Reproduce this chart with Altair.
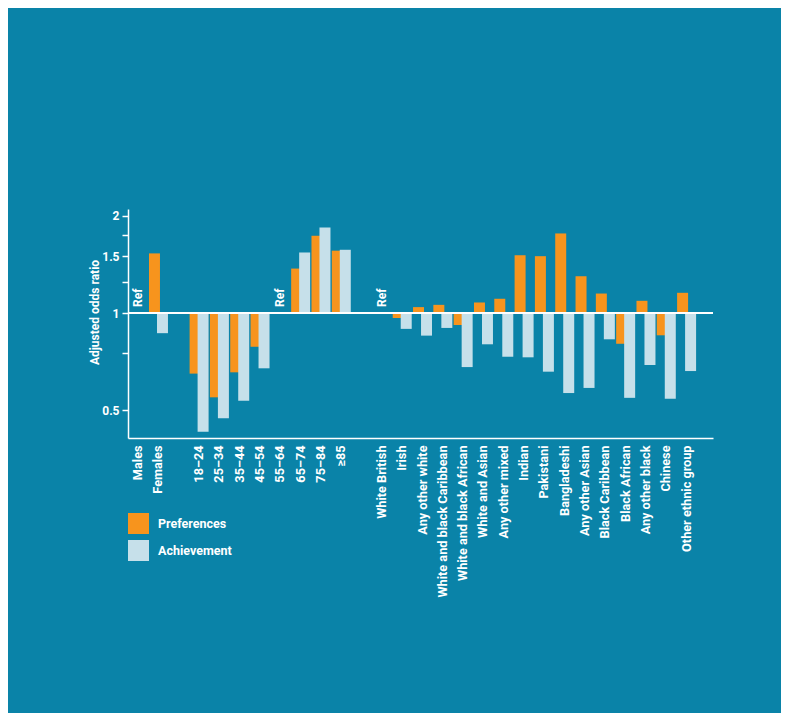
import altair as alt
import pandas as pd

categories = ["Males", "Females", " ", "18–24", "25–34", "35–44", "45–54", "55–64",
              "65–74", "75–84", "≥85", "  ", "White British", "Irish", "Any other white",
              "White and black Caribbean", "White and black African", "White and Asian",
              "Any other mixed", "Indian", "Pakistani", "Bangladeshi", "Any other Asian",
              "Black Caribbean", "Black African", "Any other black", "Chinese",
              "Other ethnic group"]

preferences = [None, 1.53, None, 0.649, 0.548, 0.655, 0.786, None,
               1.373, 1.735, 1.56, None, None, 0.965, 1.043,
               1.06, 0.918, 1.078,
               1.107, 1.51, 1.50, 1.764, 1.30,
               1.149, 0.803, 1.091, 0.853,
               1.155]

achievement = [None, 0.866, None, 0.429, 0.472, 0.535, 0.674, None,
               1.54, 1.84, 1.57, None, None, 0.893, 0.851,
               0.899, 0.68, 0.80,
               0.732, 0.729, 0.658, 0.565, 0.586,
               0.829, 0.546, 0.69, 0.542,
               0.661]

ref_categories = ["Males", "55–64", "White British"]
series = ["Preferences", "Achievement"]
colors = ["#f7941d", "#c6e0ea"]
BG = "#0a83a8"
FONT = "Roboto"

rows = []
for c, p, a in zip(categories, preferences, achievement):
    if p is not None:
        rows.append({"category": c, "series": "Preferences", "value": p})
    if a is not None:
        rows.append({"category": c, "series": "Achievement", "value": a})
df = pd.DataFrame(rows)
ref_df = pd.DataFrame({"category": ref_categories, "label": ["Ref"] * len(ref_categories)})

x_scale = alt.Scale(domain=categories, paddingInner=0, paddingOuter=0.4, align=0)
y_scale = alt.Scale(type="log", domain=[0.41, 2.1], nice=False)

x_enc = alt.X("category:N", scale=x_scale, sort=categories,
              axis=alt.Axis(title=None, labelAngle=270, ticks=False, labelPadding=7,
                            domainColor="white", domainWidth=1.5, labelColor="white",
                            labelFont=FONT, labelFontSize=12.7, labelFontWeight="bold"))
y_enc = alt.Y("value:Q", scale=y_scale,
              axis=alt.Axis(title="Adjusted odds ratio", values=[0.5, 0.75, 1, 1.25, 1.5, 1.75, 2],
                            labelExpr="(datum.value == 0.5 || datum.value == 1 || datum.value == 1.5 || datum.value == 2) ? datum.label : ''",
                            format="~g", grid=False, domainColor="white", domainWidth=1.5,
                            tickColor="white", tickSize=6, tickWidth=1.5, labelPadding=3,
                            labelColor="white", labelFont=FONT, labelFontSize=12,
                            labelFontWeight="bold", titleColor="white", titleFont=FONT,
                            titleFontSize=12, titleFontWeight="bold", titleX=-34, titleY=103,
                            titleAngle=270, titleAlign="center", titleBaseline="middle"))
color_enc = alt.Color("series:N", scale=alt.Scale(domain=series, range=colors),
                      legend=alt.Legend(title=None, orient="none", legendX=0, legendY=304,
                                        symbolType="square", symbolSize=441, symbolStrokeWidth=0,
                                        symbolOpacity=1, labelColor="white", labelFont=FONT,
                                        labelFontSize=12.5, labelFontWeight="bold",
                                        labelOffset=9, rowPadding=6, padding=0))

base = alt.Chart(df)
pref = base.transform_filter(alt.datum.series == "Preferences").mark_bar(
    width=11, xOffset=-4).encode(x=x_enc, y=y_enc, y2=alt.datum(1), color=color_enc)
ach = base.transform_filter(alt.datum.series == "Achievement").mark_bar(
    width=11, xOffset=4).encode(x=x_enc, y=y_enc, y2=alt.datum(1), color=color_enc)

rule = alt.Chart(df).mark_rule(color="white", strokeWidth=1.5).encode(y=alt.datum(1))

ref = alt.Chart(ref_df).mark_text(angle=270, align="left", baseline="middle", dx=6,
                                  color="white", font=FONT, fontSize=12,
                                  fontWeight="bold").encode(
    x=alt.X("category:N", scale=x_scale, sort=categories), y=alt.datum(1), text="label:N")

chart = alt.layer(pref, ach, rule, ref).properties(
    width=585, height=229,
    autosize=alt.AutoSizeParams(type="none"),
    padding={"left": 120, "top": 201, "right": 68, "bottom": 275},
    background=BG,
).configure_view(stroke=None)

chart.save("out.html", embed_options={"renderer": "svg", "actions": False})
